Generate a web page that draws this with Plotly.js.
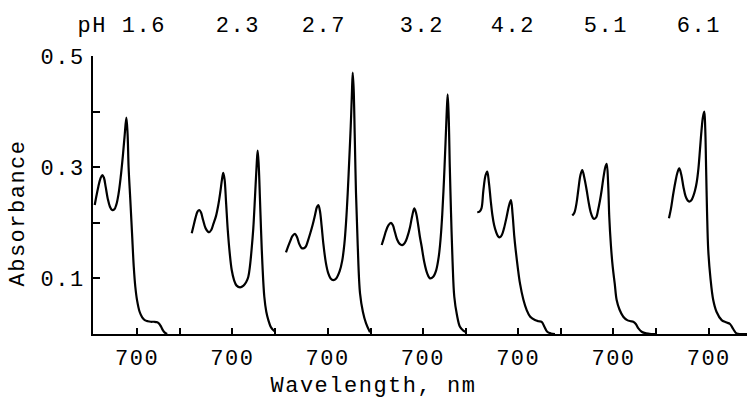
<!DOCTYPE html>
<html>
<head>
<meta charset="utf-8">
<script src="https://cdn.plot.ly/plotly-3.0.1.min.js"></script>
<style>
  html, body { margin: 0; padding: 0; background: #fff; }
  #chart { width: 749px; height: 405px; }
  #chart text { letter-spacing: 1.5px; }
</style>
</head>
<body>
<div id="chart"></div>
<script>
// pH of each spectrum (panel labels)
const pHValues = ["1.6", "2.3", "2.7", "3.2", "4.2", "5.1", "6.1"];

// Wavelength (nm) and absorbance
const wl_pH16 = [650.8, 653, 655, 657.5, 659.6, 661.5, 663.5, 666, 668.5, 671, 673.5, 676, 678.5, 681, 683.5, 685.5, 687.6, 689, 690.2, 692.2, 694.2, 696.2, 698, 700, 703, 706, 709, 712.5, 716, 720, 723.5, 726, 728, 730, 732, 735];
const abs_pH16 = [0.232, 0.25, 0.265, 0.28, 0.286, 0.281, 0.265, 0.243, 0.229, 0.223, 0.224, 0.233, 0.252, 0.282, 0.32, 0.355, 0.389, 0.36, 0.30, 0.241, 0.181, 0.121, 0.085, 0.061, 0.04, 0.03, 0.025, 0.023, 0.022, 0.022, 0.021, 0.018, 0.013, 0.007, 0.003, 0.0];

const wl_pH23 = [652.8, 655, 657, 659.5, 661.6, 663.5, 666, 669, 672.9, 675.5, 678, 681, 683.7, 686, 688, 689.5, 691, 692.8, 694.7, 697, 699.3, 702, 705, 709, 713, 716, 718.6, 720.5, 722.3, 724.4, 726.4, 728.4, 729.5, 730.8, 732.2, 733.4, 735, 737.2, 739.5, 741.9, 745, 749.7];
const abs_pH23 = [0.181, 0.195, 0.208, 0.22, 0.223, 0.219, 0.205, 0.19, 0.183, 0.187, 0.198, 0.212, 0.232, 0.255, 0.278, 0.29, 0.278, 0.235, 0.187, 0.145, 0.115, 0.097, 0.087, 0.084, 0.087, 0.093, 0.103, 0.122, 0.15, 0.19, 0.247, 0.307, 0.330, 0.3, 0.24, 0.187, 0.125, 0.067, 0.04, 0.025, 0.012, 0.004];

const wl_pH27 = [651.6, 654, 656.5, 659, 662, 664.5, 667, 669.5, 671.7, 674.5, 677, 680, 682.7, 685.5, 687.5, 689.2, 691, 693, 695, 698, 700.8, 703.5, 706.6, 710, 714, 717, 719.5, 721.5, 723.4, 725.3, 726.9, 728.2, 729.2, 730.3, 731.5, 733, 735, 737.7, 741, 744.7, 749.3];
const abs_pH27 = [0.147, 0.157, 0.167, 0.176, 0.180, 0.174, 0.162, 0.155, 0.154, 0.157, 0.167, 0.182, 0.197, 0.215, 0.228, 0.232, 0.222, 0.195, 0.163, 0.128, 0.109, 0.1, 0.097, 0.1, 0.113, 0.132, 0.162, 0.202, 0.254, 0.318, 0.374, 0.43, 0.470, 0.44, 0.36, 0.254, 0.16, 0.073, 0.04, 0.019, 0.003];

const wl_pH32 = [652.1, 654.5, 657, 660, 662.9, 665, 667.5, 670, 673, 676, 679, 682, 685, 687.5, 690, 692, 694.5, 696.5, 698.6, 701.5, 705, 708.3, 712, 715.5, 718.5, 720.5, 722.5, 724.5, 726.2, 727.6, 728.8, 730, 731.3, 732.7, 734.5, 736.5, 739.5, 743.1, 747, 750.9];
const abs_pH32 = [0.160, 0.172, 0.185, 0.196, 0.200, 0.196, 0.183, 0.17, 0.162, 0.160, 0.164, 0.175, 0.192, 0.212, 0.226, 0.218, 0.196, 0.175, 0.157, 0.13, 0.109, 0.100, 0.103, 0.115, 0.14, 0.17, 0.215, 0.277, 0.34, 0.395, 0.431, 0.39, 0.3, 0.218, 0.13, 0.067, 0.035, 0.013, 0.006, 0.003];

const wl_pH42 = [652.4, 655, 657.3, 659.5, 662, 664, 666, 668, 670, 672, 674.2, 676.5, 678.8, 681, 683.5, 686.6, 689.5, 691.6, 693.5, 695.5, 697.1, 699.5, 702.1, 706, 709.9, 714, 719.5, 723.5, 727.3, 730.5, 733.8, 738, 742.8];
const abs_pH42 = [0.219, 0.22, 0.226, 0.258, 0.285, 0.292, 0.272, 0.241, 0.214, 0.196, 0.184, 0.176, 0.174, 0.178, 0.19, 0.211, 0.232, 0.241, 0.215, 0.175, 0.151, 0.12, 0.091, 0.062, 0.043, 0.031, 0.025, 0.023, 0.022, 0.013, 0.004, 0.001, 0.0];

const wl_pH51 = [652.1, 654.5, 657, 659.1, 661.5, 663.7, 666, 668.8, 671, 673.5, 676, 677.7, 680, 682, 684.3, 686.3, 688.5, 690.5, 692.1, 693.8, 695.1, 697, 699.1, 701.5, 703.7, 707, 711.4, 716, 720, 723, 726, 729, 732.8, 738, 744, 750.2];
const abs_pH51 = [0.213, 0.218, 0.235, 0.259, 0.285, 0.295, 0.282, 0.259, 0.238, 0.219, 0.209, 0.207, 0.21, 0.222, 0.24, 0.259, 0.283, 0.3, 0.306, 0.27, 0.211, 0.16, 0.121, 0.09, 0.061, 0.044, 0.031, 0.025, 0.023, 0.022, 0.018, 0.01, 0.004, 0.001, 0.0, 0.0];

const wl_pH61 = [653.7, 656, 658.5, 661, 663.5, 665.7, 668, 670.5, 673, 675.5, 677.3, 679.5, 682, 684, 685.9, 688, 689.8, 691.5, 693.2, 694.8, 695.9, 696.9, 698, 699.4, 702, 705.2, 709, 715, 720, 724.7, 728, 732.4, 738, 745];
const abs_pH61 = [0.208, 0.225, 0.25, 0.272, 0.29, 0.298, 0.287, 0.265, 0.248, 0.24, 0.238, 0.24, 0.248, 0.258, 0.272, 0.298, 0.332, 0.365, 0.39, 0.400, 0.37, 0.3, 0.22, 0.151, 0.1, 0.061, 0.04, 0.025, 0.021, 0.018, 0.01, 0.001, 0.0, 0.0];

// Tick labels
const xTickLabel = "700";
const yTickVals = [0.1, 0.2, 0.3, 0.4, 0.5];
const yTickText = ["0.1", "", "0.3", "", "0.5"];

const wavelengths = [wl_pH16, wl_pH23, wl_pH27, wl_pH32, wl_pH42, wl_pH51, wl_pH61];
const absorbances = [abs_pH16, abs_pH23, abs_pH27, abs_pH32, abs_pH42, abs_pH51, abs_pH61];

// layout: panels are placed side by side, shifted along a shared axis
const PANEL_SHIFT = 110.8;   // nm of axis between neighbouring panels
const FONT = {family: "'Courier New', 'Liberation Mono', monospace", size: 22, color: "#000"};

const traces = wavelengths.map((wl, i) => ({
  x: wl.map(w => w + i * PANEL_SHIFT),
  y: absorbances[i],
  type: "scatter",
  mode: "lines",
  line: {color: "#000", width: 2.2, shape: "spline", smoothing: 1},
  hoverinfo: "skip",
  showlegend: false
}));

const xTickVals = [], xTickText = [];
pHValues.forEach((p, i) => {
  xTickVals.push(700 + i * PANEL_SHIFT); xTickText.push(xTickLabel);
  xTickVals.push(750 + i * PANEL_SHIFT); xTickText.push("");
});

// label centres in pixels (chart coordinates) converted to paper fractions
const L = 93, W = 654, T = 56, H = 278;
const px = v => (v - L) / W;
const py = v => (T + H - v) / H;
const labelCentres = [144, 238, 324, 422, 513, 606, 699];

const annotations = pHValues.map((p, i) => ({
  text: p, xref: "paper", yref: "paper", x: px(labelCentres[i]), y: py(26),
  xanchor: "center", yanchor: "middle", showarrow: false, font: FONT
}));
annotations.push({text: "pH", xref: "paper", yref: "paper", x: px(92), y: py(26),
  xanchor: "center", yanchor: "middle", showarrow: false, font: FONT});
annotations.push({text: "Wavelength, nm", xref: "paper", yref: "paper", x: px(373), y: py(386),
  xanchor: "center", yanchor: "middle", showarrow: false, font: FONT});
annotations.push({text: "Absorbance", xref: "paper", yref: "paper", x: px(18), y: py(213),
  xanchor: "center", yanchor: "middle", textangle: -90, showarrow: false, font: FONT});

const layout = {
  width: 749, height: 405,
  margin: {l: L, r: 749 - L - W, t: T, b: 405 - T - H, pad: 0},
  paper_bgcolor: "#fff", plot_bgcolor: "#fff",
  font: FONT,
  xaxis: {
    range: [648.8, 648.8 + W / 0.86],
    tickmode: "array", tickvals: xTickVals, ticktext: xTickText,
    ticks: "inside", ticklen: 6, tickwidth: 2, tickcolor: "#000",
    showline: true, linecolor: "#000", linewidth: 2,
    showgrid: false, zeroline: false, tickfont: FONT, ticklabelstandoff: 3
  },
  yaxis: {
    range: [0, 0.5],
    tickmode: "array", tickvals: yTickVals, ticktext: yTickText,
    ticks: "inside", ticklen: 7, tickwidth: 2, tickcolor: "#000",
    showline: true, linecolor: "#000", linewidth: 2,
    showgrid: false, zeroline: false, tickfont: FONT, ticklabelstandoff: 2
  },
  annotations: annotations
};

Plotly.newPlot("chart", traces, layout, {displayModeBar: false, staticPlot: true});
</script>
</body>
</html>
